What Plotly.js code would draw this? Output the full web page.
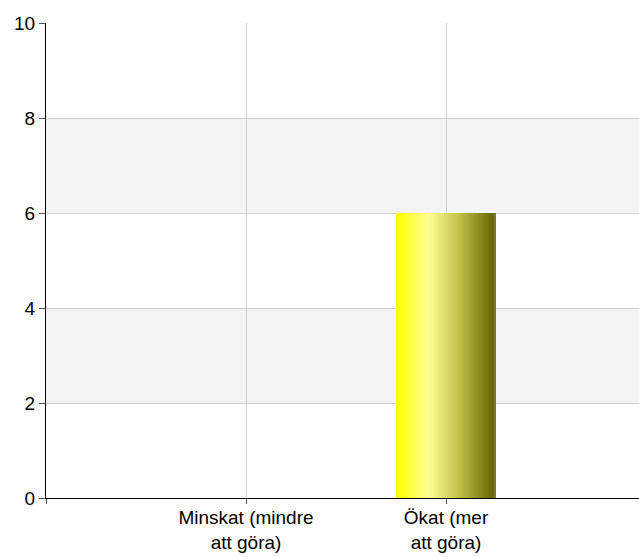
<!DOCTYPE html>
<html>
<head>
<meta charset="utf-8">
<script src="https://cdn.plot.ly/plotly-3.0.1.min.js"></script>
<style>html,body{margin:0;padding:0;background:#fff;}</style>
</head>
<body>
<div id="chart" style="width:639px;height:557px;"></div>
<script>
// Data
const categories = ["Minskat (mindre<br>att göra)", "Ökat (mer<br>att göra)"];
const values = [0, 6];
const yTicks = [0, 2, 4, 6, 8, 10];
const bandRanges = [[2, 4], [6, 8]];

// Gradient stops for the bar (style)
const stops = [
  [0.00, [255, 255, 0]],
  [0.06, [255, 255, 20]],
  [0.32, [255, 255, 150]],
  [0.60, [200, 200, 80]],
  [0.97, [104, 104, 0]],
  [1.00, [120, 120, 100]]
];
function colorAt(t) {
  for (let i = 1; i < stops.length; i++) {
    if (t <= stops[i][0]) {
      const a = stops[i - 1], b = stops[i];
      const f = (t - a[0]) / (b[0] - a[0]);
      const c = a[1].map((v, k) => Math.round(v + (b[1][k] - v) * f));
      return `rgb(${c[0]},${c[1]},${c[2]})`;
    }
  }
  const c = stops[stops.length - 1][1];
  return `rgb(${c[0]},${c[1]},${c[2]})`;
}

const xIdx = categories.map((_, i) => i);
const barWidth = 0.5;
const N = 60;
const traces = [];
for (let s = 0; s < N; s++) {
  const w = barWidth / N;
  traces.push({
    type: 'bar',
    x: xIdx,
    y: values,
    width: w * 1.05,
    offset: -barWidth / 2 + s * w,
    marker: { color: colorAt((s + 0.5) / N), line: { width: 0 } },
    hoverinfo: 'skip',
    showlegend: false
  });
}

const shapes = bandRanges.map(r => ({
  type: 'rect', xref: 'paper', yref: 'y', x0: 0, x1: 1, y0: r[0], y1: r[1],
  fillcolor: '#f4f4f4', line: { width: 0 }, layer: 'below'
}));

const layout = {
  width: 639, height: 557,
  margin: { l: 46, r: 0, t: 23, b: 59, pad: 0 },
  paper_bgcolor: '#fff', plot_bgcolor: '#fff',
  barmode: 'overlay',
  bargap: 0,
  showlegend: false,
  font: { family: 'Liberation Sans, Arial, sans-serif', size: 19, color: '#000' },
  shapes: shapes,
  xaxis: {
    range: [-1, 1.965],
    tickmode: 'array',
    tickvals: [-1].concat(xIdx),
    ticktext: [''].concat(categories),
    ticks: 'outside', ticklen: 5, tickcolor: '#555', tickwidth: 1,
    ticklabelstandoff: -3,
    showgrid: true, gridcolor: '#d0d0d0', gridwidth: 1,
    showline: true, linecolor: '#000', linewidth: 1,
    zeroline: false,
    tickfont: { size: 19, color: '#000' }
  },
  yaxis: {
    range: [0, 10],
    tickmode: 'array',
    tickvals: yTicks,
    ticktext: yTicks.map(String),
    ticks: 'outside', ticklen: 6, tickcolor: '#555', tickwidth: 1,
    showgrid: true, gridcolor: '#d0d0d0', gridwidth: 1,
    showline: true, linecolor: '#000', linewidth: 1,
    zeroline: false,
    tickfont: { size: 19, color: '#000' }
  }
};

Plotly.newPlot('chart', traces, layout, { displayModeBar: false, staticPlot: true });
</script>
</body>
</html>
